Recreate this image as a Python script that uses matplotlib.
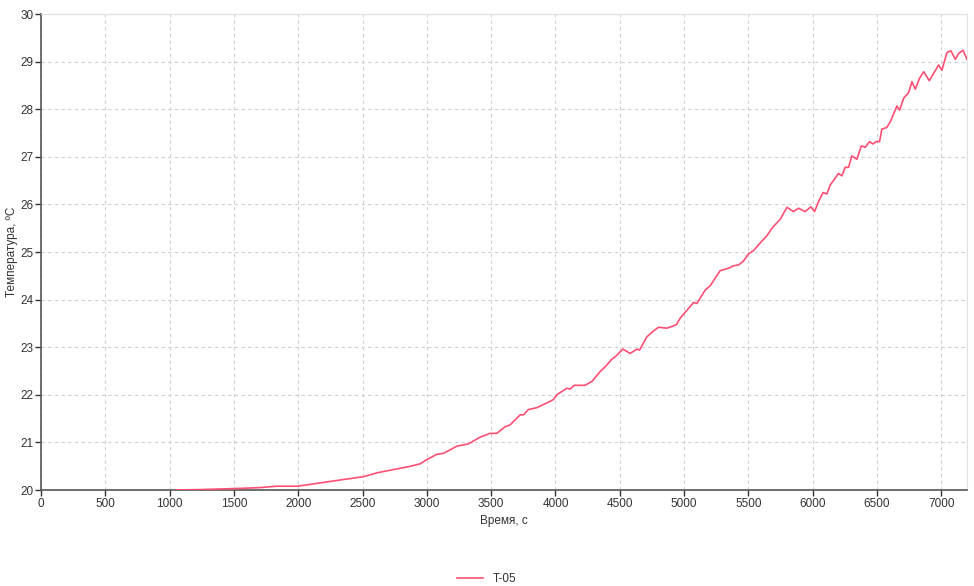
import matplotlib.pyplot as plt

plt.rcParams['font.family'] = ['Liberation Sans', 'DejaVu Sans']

# время, с
time_s = [1050, 1250, 1500, 1700, 1833, 1990, 2100, 2222, 2350, 2507, 2611, 2741,
          2857, 2948, 3000, 3078, 3129, 3233, 3324, 3414, 3492, 3544, 3609, 3648,
          3726, 3751, 3790, 3855, 3933, 3985, 4011, 4089, 4114, 4146, 4231, 4283,
          4348, 4387, 4439, 4465, 4524, 4581, 4633, 4654, 4711, 4762, 4802, 4867,
          4939, 4970, 5074, 5100, 5164, 5203, 5281, 5320, 5346, 5385, 5424, 5462,
          5501, 5540, 5605, 5644, 5683, 5748, 5800, 5851, 5890, 5942, 5986, 6015,
          6046, 6080, 6111, 6137, 6201, 6227, 6253, 6279, 6305, 6344, 6378, 6409,
          6442, 6469, 6494, 6520, 6538, 6577, 6608, 6655, 6676, 6707, 6746, 6772,
          6798, 6831, 6863, 6907, 6940, 6979, 7005, 7044, 7075, 7109, 7135, 7169,
          7200]
# температура T-05, ºC
temp_t05 = [20.0, 20.01, 20.03, 20.05, 20.08, 20.08, 20.12, 20.17, 20.22, 20.28, 20.36, 20.43,
            20.49, 20.55, 20.64, 20.75, 20.77, 20.92, 20.97, 21.11, 21.19, 21.19, 21.33, 21.37,
            21.58, 21.58, 21.69, 21.73, 21.83, 21.9, 22.0, 22.14, 22.12, 22.2, 22.2, 22.28,
            22.49, 22.59, 22.75, 22.8, 22.96, 22.87, 22.96, 22.94, 23.22, 23.34, 23.42, 23.4,
            23.47, 23.61, 23.94, 23.92, 24.2, 24.29, 24.61, 24.64, 24.66, 24.71, 24.73, 24.81,
            24.96, 25.03, 25.23, 25.34, 25.5, 25.69, 25.94, 25.85, 25.92, 25.85, 25.95, 25.85,
            26.06, 26.25, 26.22, 26.41, 26.65, 26.6, 26.78, 26.78, 27.02, 26.95, 27.23, 27.2,
            27.32, 27.27, 27.32, 27.32, 27.58, 27.62, 27.76, 28.07, 27.98, 28.23, 28.35, 28.58,
            28.42, 28.65, 28.79, 28.6, 28.75, 28.93, 28.82, 29.19, 29.23, 29.05, 29.17, 29.24,
            29.05]

fig = plt.figure(figsize=(9.74, 5.86), dpi=100)
ax = fig.add_axes([0.0421, 0.1638, 0.9507, 0.8122])

ax.plot(time_s, temp_t05, color='#ff4f73', lw=1.2, label='T-05', zorder=3)

ax.set_xlim(0, 7200)
ax.set_ylim(20, 30)
ax.set_xticks(range(0, 7001, 500))
ax.set_yticks(range(20, 31))

ax.grid(True, color='#d0d0d0', linestyle=(0, (3, 3)), lw=0.8)
for s in ['top', 'right']:
    ax.spines[s].set_color('#e0e0e0')
for s in ['left', 'bottom']:
    ax.spines[s].set_color('#555555')
    ax.spines[s].set_linewidth(1.2)

ax.tick_params(labelsize=8.5, colors='#333333', length=4, width=1, direction='out', pad=1.5)
ax.set_xlabel('Время, с', fontsize=8.5, color='#333333')
ax.set_ylabel('Температура, ºC', fontsize=8.5, color='#333333')
ax.yaxis.set_label_coords(-0.025, 0.5)
ax.xaxis.set_label_coords(0.5, -0.052)

fig.legend(loc='lower center', bbox_to_anchor=(0.5, -0.016), frameon=False,
           fontsize=8.5, handlelength=2.2, labelcolor='#333333')

fig.savefig('out.png', dpi=100)
